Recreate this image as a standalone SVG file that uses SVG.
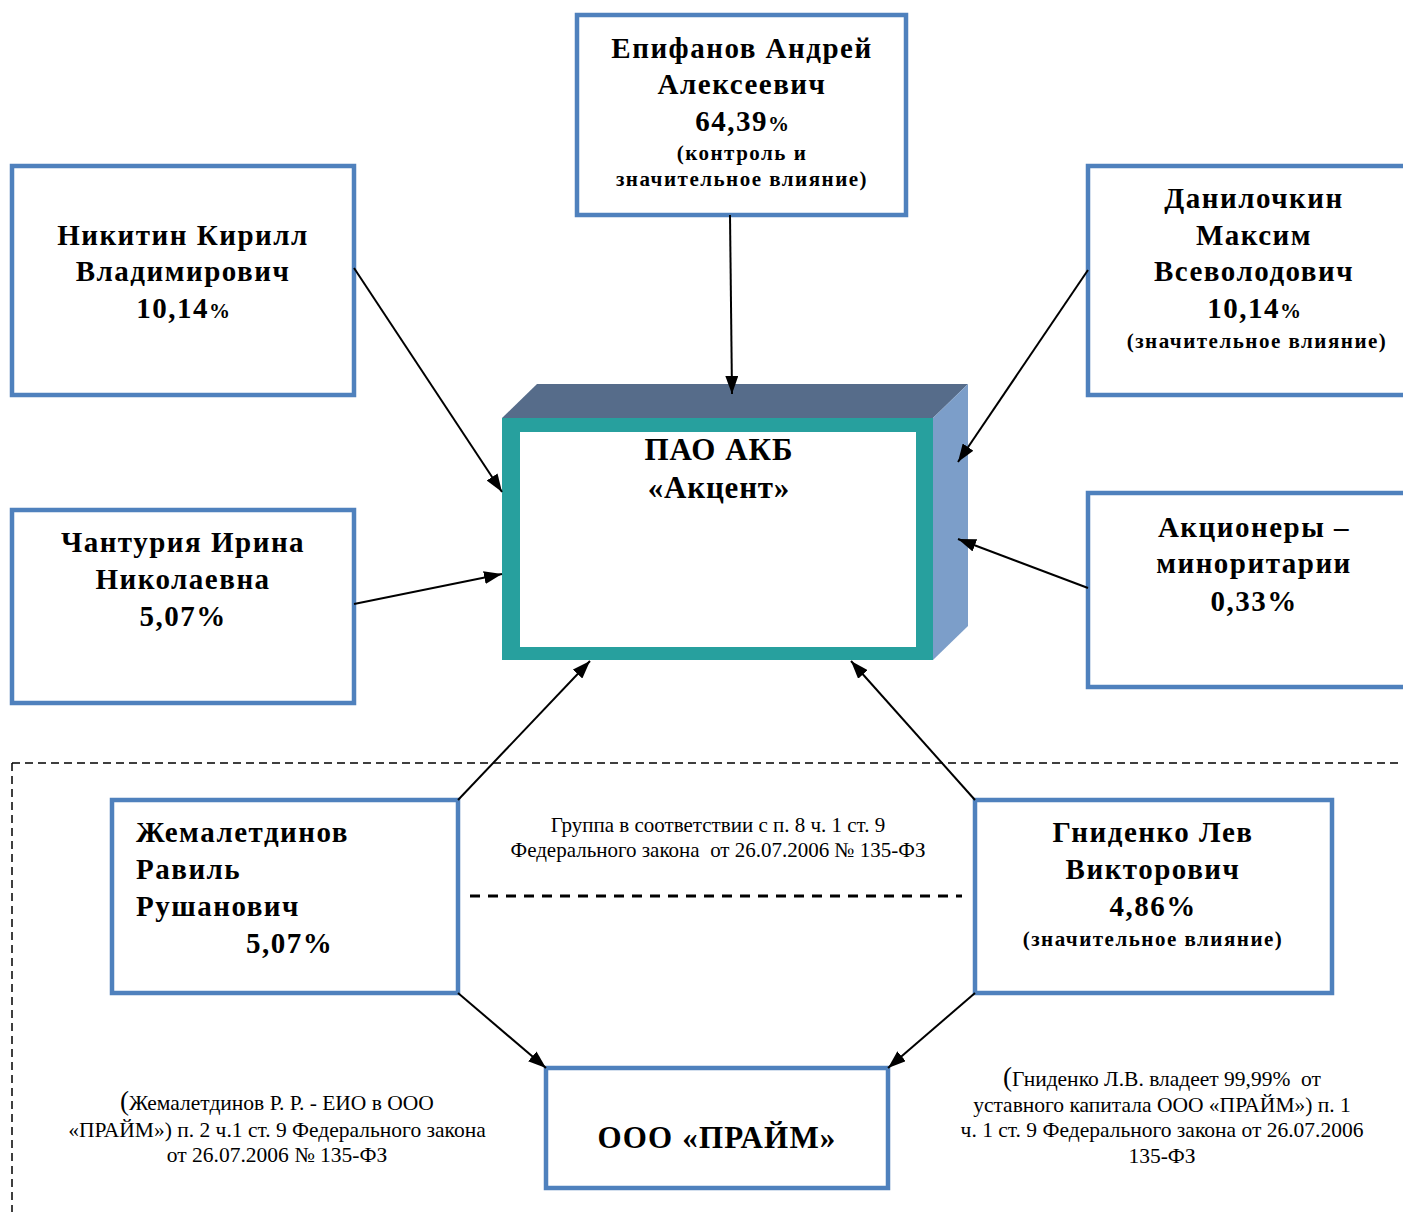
<svg xmlns="http://www.w3.org/2000/svg" width="1403" height="1212" viewBox="0 0 1403 1212">
<defs>
<style>
.box{fill:#fff;stroke:#4F81BD;stroke-width:4.5}
.t{font-family:"Liberation Serif","Times New Roman",serif;font-weight:bold;font-size:29px;letter-spacing:1.5px;fill:#000;text-anchor:middle}
.s{font-size:21px;letter-spacing:1.5px}
.p{font-size:21px;letter-spacing:0}
.n{font-family:"Liberation Serif","Times New Roman",serif;font-size:21.5px;fill:#000;text-anchor:middle}
.c{stroke:#000;stroke-width:2;fill:none;marker-end:url(#ah)}
.dash{stroke:#000;stroke-width:1.5;stroke-dasharray:8 5;fill:none}
</style>
<marker id="ah" viewBox="0 0 18 13" refX="18" refY="6.5" markerWidth="18" markerHeight="13" orient="auto" markerUnits="userSpaceOnUse">
<path d="M0,0 L18,6.5 L0,13 z" fill="#000"/>
</marker>
</defs>
<rect width="1403" height="1212" fill="#fff"/>

<g id="group-frame">
<path class="dash" d="M12,763 L1403,763 M12,763 L12,1212"/>
<line x1="470" y1="896" x2="962" y2="896" stroke="#000" stroke-width="3" stroke-dasharray="10 8"/>
<text class="n" x="718" y="832" style="font-size:21px">Группа в соответствии с п. 8 ч. 1 ст. 9</text>
<text class="n" x="718" y="857" style="font-size:21px" xml:space="preserve">Федерального закона  от 26.07.2006 № 135-ФЗ</text>
</g>

<g id="pao">
<polygon points="502,418 537,384 968,384 933,418" fill="#566C8A"/>
<polygon points="933,418 968,384 968,626 933,660" fill="#7C9EC9"/>
<rect x="502" y="418" width="431" height="242" fill="#27A09E"/>
<rect x="520" y="432" width="396" height="215" fill="#fff"/>
<text class="t" x="719" y="460" style="font-size:31px;letter-spacing:1px">ПАО АКБ</text>
<text class="t" x="719" y="498" style="font-size:31px;letter-spacing:0.8px">«Акцент»</text>
</g>

<g id="epifanov">
<rect class="box" x="577" y="15" width="329" height="200"/>
<text class="t" x="742" y="58">Епифанов Андрей</text>
<text class="t" x="742" y="94">Алексеевич</text>
<text class="t" x="742" y="131">64,39<tspan class="p">%</tspan></text>
<text class="t s" x="742" y="160">(контроль и</text>
<text class="t s" x="742" y="186">значительное влияние)</text>
</g>

<g id="nikitin">
<rect class="box" x="12" y="166" width="342" height="229"/>
<text class="t" x="183" y="245">Никитин Кирилл</text>
<text class="t" x="183" y="281">Владимирович</text>
<text class="t" x="183" y="318">10,14<tspan class="p">%</tspan></text>
</g>

<g id="chanturiya">
<rect class="box" x="12" y="510" width="342" height="193"/>
<text class="t" x="183" y="552">Чантурия Ирина</text>
<text class="t" x="183" y="589">Николаевна</text>
<text class="t" x="183" y="626">5,07%</text>
</g>

<g id="danilochkin">
<rect class="box" x="1088" y="166" width="330" height="229"/>
<text class="t" x="1254" y="208">Данилочкин</text>
<text class="t" x="1254" y="245">Максим</text>
<text class="t" x="1254" y="281">Всеволодович</text>
<text class="t" x="1254" y="318">10,14<tspan class="p">%</tspan></text>
<text class="t s" x="1257" y="348">(значительное влияние)</text>
</g>

<g id="minority">
<rect class="box" x="1088" y="493" width="330" height="194"/>
<text class="t" x="1254" y="537">Акционеры –</text>
<text class="t" x="1254" y="573">миноритарии</text>
<text class="t" x="1254" y="611">0,33%</text>
</g>

<g id="zhemaletdinov">
<rect class="box" x="112" y="800" width="346" height="193"/>
<text class="t" x="136" y="842" style="text-anchor:start">Жемалетдинов</text>
<text class="t" x="136" y="879" style="text-anchor:start">Равиль</text>
<text class="t" x="136" y="916" style="text-anchor:start">Рушанович</text>
<text class="t" x="246" y="953" style="text-anchor:start">5,07%</text>
</g>

<g id="gnidenko">
<rect class="box" x="975" y="800" width="357" height="193"/>
<text class="t" x="1153" y="842">Гниденко Лев</text>
<text class="t" x="1153" y="879">Викторович</text>
<text class="t" x="1153" y="916">4,86%</text>
<text class="t s" x="1153" y="946">(значительное влияние)</text>
</g>

<g id="praym">
<rect class="box" x="546" y="1068" width="342" height="120"/>
<text class="t" x="717" y="1148" style="font-size:31px;letter-spacing:1.2px">ООО «ПРАЙМ»</text>
</g>

<g id="note-left">
<text class="n" x="277" y="1110"><tspan style="font-size:27px">(</tspan>Жемалетдинов Р. Р. - ЕИО в ООО</text>
<text class="n" x="277" y="1137">«ПРАЙМ») п. 2 ч.1 ст. 9 Федерального закона</text>
<text class="n" x="277" y="1162">от 26.07.2006 № 135-ФЗ</text>
</g>

<g id="note-right">
<text class="n" x="1162" y="1086" xml:space="preserve"><tspan style="font-size:27px">(</tspan>Гниденко Л.В. владеет 99,99%  от</text>
<text class="n" x="1162" y="1112">уставного капитала ООО «ПРАЙМ») п. 1</text>
<text class="n" x="1162" y="1137">ч. 1 ст. 9 Федерального закона от 26.07.2006</text>
<text class="n" x="1162" y="1163">135-ФЗ</text>
</g>

<g id="connectors">
<line class="c" x1="730" y1="215" x2="732" y2="394"/>
<line class="c" x1="354" y1="268" x2="502" y2="492"/>
<line class="c" x1="354" y1="604" x2="502" y2="574"/>
<line class="c" x1="1088" y1="270" x2="958" y2="462"/>
<line class="c" x1="1088" y1="588" x2="958" y2="539"/>
<line class="c" x1="458" y1="800" x2="590" y2="661"/>
<line class="c" x1="975" y1="800" x2="851" y2="661"/>
<line class="c" x1="458" y1="993" x2="546" y2="1068"/>
<line class="c" x1="975" y1="993" x2="888" y2="1068"/>
</g>
</svg>
